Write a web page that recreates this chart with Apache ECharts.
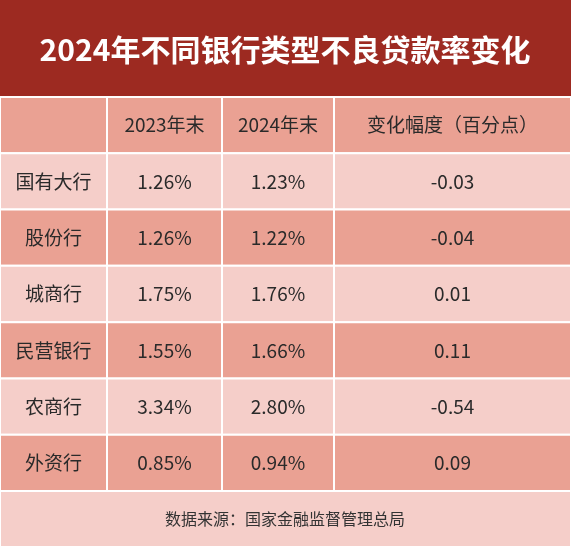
<!DOCTYPE html>
<html><head><meta charset="utf-8">
<script src="https://cdn.jsdelivr.net/npm/echarts@6/dist/echarts.min.js"></script>
<style>html,body{margin:0;padding:0;background:#fff}#c{width:571px;height:547px}</style>
</head><body><div id="c"></div>
<script>
var headers = ['', '2023年末', '2024年末', '变化幅度（百分点）'];
var banks = ['国有大行', '股份行', '城商行', '民营银行', '农商行', '外资行'];
var rate2023 = ['1.26%', '1.26%', '1.75%', '1.55%', '3.34%', '0.85%'];
var rate2024 = ['1.23%', '1.22%', '1.76%', '1.66%', '2.80%', '0.94%'];
var change = ['-0.03', '-0.04', '0.01', '0.11', '-0.54', '0.09'];

var colEdges = [0, 107, 222, 334, 571];
var rowNames = ['header'].concat(banks);
var cells = [];
headers.forEach(function (h, c) { cells.push([c, 0, h]); });
banks.forEach(function (b, i) {
    cells.push([0, i + 1, b], [1, i + 1, rate2023[i]], [2, i + 1, rate2024[i]], [3, i + 1, change[i]]);
});
var light = '#F5CEC9', salmon = '#EAA193';

var chart = echarts.init(document.getElementById('c'));
chart.setOption({
    animation: false,
    grid: {left: 0, right: 0, top: 97, bottom: 56},
    xAxis: {type: 'value', min: 0, max: 571, show: false},
    yAxis: {type: 'category', data: rowNames, inverse: true, show: false},
    graphic: [
        {type: 'rect', shape: {x: 0, y: 0, width: 571, height: 97}, style: {fill: '#9D2A21'}},
        {type: 'text', x: 285, y: 50, style: {text: '2024年不同银行类型不良贷款率变化', fill: '#fff',
            font: 'bold 30px "Noto Sans CJK SC"', align: 'center', verticalAlign: 'middle'}},
        {type: 'rect', shape: {x: 0, y: 491, width: 571, height: 56}, style: {fill: light, stroke: '#fff', lineWidth: 2}},
        {type: 'text', x: 285, y: 519, style: {text: '数据来源：国家金融监督管理总局', fill: '#333',
            font: '16px "Noto Sans CJK SC"', align: 'center', verticalAlign: 'middle'}}
    ],
    series: [{
        type: 'custom',
        data: cells,
        renderItem: function (params, api) {
            var c = api.value(0), r = api.value(1);
            var text = cells[params.dataIndex][2];
            var p0 = api.coord([colEdges[c], r]);
            var p1 = api.coord([colEdges[c + 1], r]);
            var h = api.size([0, 1])[1];
            var fill = (r % 2 === 0) ? salmon : light;
            return {type: 'group', children: [
                {type: 'rect', shape: {x: p0[0], y: p0[1] - h / 2, width: p1[0] - p0[0], height: h},
                    style: {fill: fill, stroke: '#fff', lineWidth: 2}},
                {type: 'text', x: (p0[0] + p1[0]) / 2, y: p0[1], style: {text: text, fill: '#2a2a2a',
                    font: '19px "Noto Sans CJK SC"', align: 'center', verticalAlign: 'middle'}}
            ]};
        }
    }]
});
</script></body></html>
